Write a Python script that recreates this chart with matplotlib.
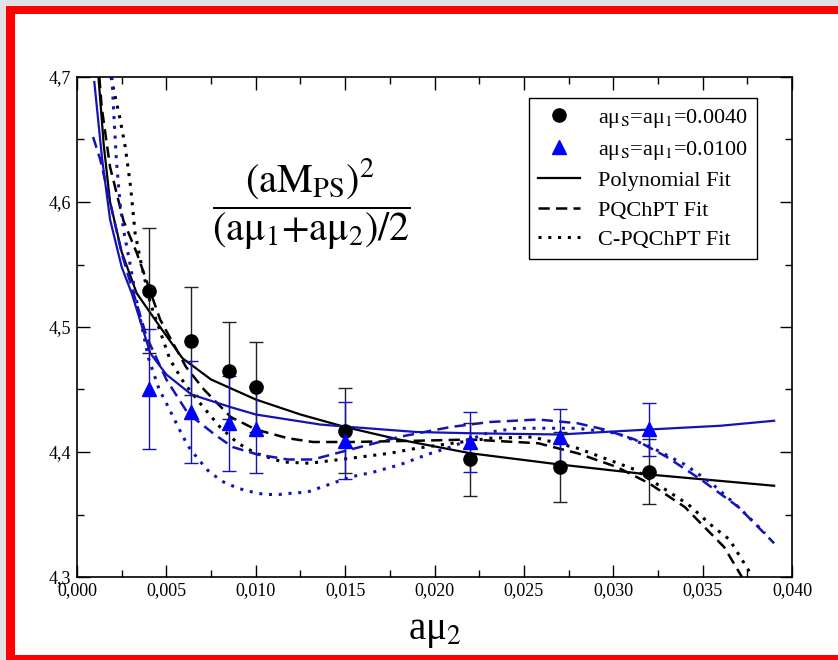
import matplotlib
matplotlib.use("Agg")
import matplotlib.pyplot as plt
from matplotlib.lines import Line2D
from matplotlib.patches import Rectangle
from matplotlib.ticker import FuncFormatter, MultipleLocator

plt.rcParams["font.family"] = ["Liberation Serif", "DejaVu Serif"]
plt.rcParams["mathtext.fontset"] = "stix"

# measured points, a mu_1 = 0.0040 (black circles)
x_040 = [0.0040, 0.0064, 0.0085, 0.0100, 0.0150, 0.0220, 0.0270, 0.0320]
y_040 = [4.529, 4.489, 4.465, 4.452, 4.417, 4.394, 4.388, 4.384]
e_040 = [0.050, 0.043, 0.039, 0.036, 0.034, 0.029, 0.028, 0.026]

# measured points, a mu_1 = 0.0100 (blue triangles)
x_100 = [0.0040, 0.0064, 0.0085, 0.0100, 0.0150, 0.0220, 0.0270, 0.0320]
y_100 = [4.450, 4.432, 4.423, 4.418, 4.409, 4.408, 4.412, 4.418]
e_100 = [0.048, 0.041, 0.038, 0.035, 0.031, 0.024, 0.022, 0.021]

# fit curves
poly_040_x = [0.0012, 0.0015, 0.00185, 0.0025, 0.00334, 0.00465, 0.0059, 0.0075, 0.0100,
              0.0125, 0.0150, 0.0180, 0.0220, 0.0270, 0.0320, 0.0390]
poly_040_y = [4.700, 4.645, 4.600, 4.560, 4.527, 4.500, 4.475, 4.458, 4.442,
              4.430, 4.420, 4.410, 4.399, 4.390, 4.382, 4.373]

poly_100_x = [0.00097, 0.0014, 0.00185, 0.0025, 0.00306, 0.0041, 0.0050, 0.0064, 0.00857,
              0.0100, 0.0136, 0.0153, 0.0190, 0.0220, 0.0270, 0.0320, 0.0360, 0.0390]
poly_100_y = [4.696, 4.635, 4.586, 4.548, 4.527, 4.479, 4.462, 4.446, 4.436,
              4.430, 4.422, 4.420, 4.416, 4.415, 4.414, 4.418, 4.421, 4.425]

pq_040_x = [0.00125, 0.00138, 0.00185, 0.0026, 0.00335, 0.00465, 0.0061, 0.0071, 0.0086,
            0.0100, 0.0118, 0.0132, 0.0153, 0.0190, 0.0220, 0.0258, 0.0280, 0.0302,
            0.0320, 0.0340, 0.0362, 0.0372]
pq_040_y = [4.700, 4.676, 4.628, 4.585, 4.559, 4.506, 4.468, 4.450, 4.428,
            4.418, 4.411, 4.408, 4.408, 4.409, 4.410, 4.407, 4.399, 4.388,
            4.375, 4.356, 4.324, 4.300]

cpq_040_x = [0.0019, 0.0024, 0.0027, 0.0030, 0.00325, 0.0036, 0.0041, 0.0052, 0.0060,
             0.0070, 0.0080, 0.0090, 0.0100, 0.0115, 0.0130, 0.0153, 0.0175, 0.0190,
             0.0210, 0.0231, 0.0255, 0.0280, 0.0297, 0.0312, 0.0327, 0.0342, 0.0356,
             0.0365, 0.0378]
cpq_040_y = [4.700, 4.667, 4.644, 4.612, 4.575, 4.550, 4.519, 4.474, 4.455,
             4.437, 4.420, 4.407, 4.399, 4.392, 4.391, 4.395, 4.399, 4.403,
             4.407, 4.411, 4.412, 4.403, 4.394, 4.386, 4.372, 4.358, 4.340,
             4.330, 4.300]

pq_100_x = [0.0009, 0.0013, 0.00185, 0.0025, 0.0031, 0.0039, 0.0050, 0.0062, 0.0077,
            0.0087, 0.0101, 0.0118, 0.0132, 0.0153, 0.0180, 0.0209, 0.0231, 0.0258,
            0.0280, 0.0295, 0.0312, 0.0330, 0.0349, 0.0370, 0.0390]
pq_100_y = [4.652, 4.634, 4.600, 4.559, 4.530, 4.492, 4.458, 4.431, 4.414,
            4.404, 4.398, 4.394, 4.394, 4.402, 4.412, 4.420, 4.424, 4.426,
            4.423, 4.418, 4.410, 4.396, 4.378, 4.356, 4.327]

cpq_100_x = [0.00195, 0.00205, 0.0022, 0.0024, 0.0026, 0.0030, 0.0034, 0.0040, 0.0046,
             0.0050, 0.0058, 0.0062, 0.0068, 0.0074, 0.0082, 0.0090, 0.0098, 0.0105,
             0.0113, 0.0120, 0.0129, 0.0153, 0.0166, 0.0181, 0.0196, 0.0209, 0.0231,
             0.0246, 0.0263, 0.0280, 0.0302, 0.0321, 0.0340, 0.0355, 0.0370, 0.0385]
cpq_100_y = [4.700, 4.673, 4.634, 4.600, 4.578, 4.548, 4.516, 4.475, 4.450,
             4.439, 4.416, 4.405, 4.394, 4.384, 4.376, 4.371, 4.368, 4.366,
             4.366, 4.367, 4.368, 4.380, 4.384, 4.390, 4.398, 4.404, 4.416,
             4.419, 4.419, 4.419, 4.415, 4.404, 4.390, 4.375, 4.356, 4.335]

legend_labels = ["aμ$_{\\mathrm{S}}$=aμ$_1$=0.0040", "aμ$_{\\mathrm{S}}$=aμ$_1$=0.0100",
                 "Polynomial Fit", "PQChPT Fit", "C-PQChPT Fit"]

BLUE = "#1414b4"
DOT = (0, (1, 2.2))
DASH = (0, (4.5, 2.5))

fig = plt.figure(figsize=(8.38, 6.6), dpi=100)
fig.patch.set_facecolor("#e2e2e2")
W, H = 838.0, 660.0
fig.add_artist(Rectangle((6 / W, 0), 1, 1 - 6 / H, transform=fig.transFigure,
                         facecolor="red", edgecolor="none", zorder=-3))
fig.add_artist(Rectangle((15 / W, 5 / H), 1, 1 - 19 / H, transform=fig.transFigure,
                         facecolor="white", edgecolor="none", zorder=-2))

ax = fig.add_axes([77 / W, 1 - 577 / H, (792 - 77) / W, 500 / H])
ax.set_facecolor("none")

ax.plot(poly_040_x, poly_040_y, color="black", lw=1.6)
ax.plot(pq_040_x, pq_040_y, color="black", lw=1.8, linestyle=DASH)
ax.plot(cpq_040_x, cpq_040_y, color="black", lw=2.2, linestyle=DOT)
ax.plot(poly_100_x, poly_100_y, color=BLUE, lw=1.6)
ax.plot(pq_100_x, pq_100_y, color=BLUE, lw=1.8, linestyle=DASH)
ax.plot(cpq_100_x, cpq_100_y, color=BLUE, lw=2.2, linestyle=DOT)

ax.errorbar(x_040, y_040, yerr=e_040, fmt="o", color="black", ms=9.5,
            ecolor="#222222", elinewidth=1, capsize=5, capthick=1, zorder=5)
ax.errorbar(x_100, y_100, yerr=e_100, fmt="^", color="blue", ms=10.5,
            ecolor=BLUE, elinewidth=1, capsize=5, capthick=1, zorder=5)

ax.set_xlim(0.0, 0.040)
ax.set_ylim(4.3, 4.7)
ax.xaxis.set_major_locator(MultipleLocator(0.005))
ax.xaxis.set_minor_locator(MultipleLocator(0.0025))
ax.yaxis.set_major_locator(MultipleLocator(0.1))
ax.yaxis.set_minor_locator(MultipleLocator(0.05))
ax.xaxis.set_major_formatter(FuncFormatter(lambda v, p: f"{v:.3f}".replace(".", ",")))
ax.yaxis.set_major_formatter(FuncFormatter(lambda v, p: f"{v:.1f}".replace(".", ",")))
ax.tick_params(which="both", direction="in", top=True, right=True, labelsize=13)
ax.tick_params(which="major", length=9, width=1)
ax.tick_params(axis="x", which="major", pad=4)
ax.tick_params(axis="y", which="major", pad=4)
ax.tick_params(which="minor", length=5, width=1)
for s in ax.spines.values():
    s.set_linewidth(1.2)

ax.set_xlabel("aμ$_2$", fontsize=28, labelpad=10)

ax.text(0.0131, 4.598,
        r"$\dfrac{(\mathrm{aM}_{\mathrm{PS}})^2}{(\mathrm{aμ}_1\mathrm{+aμ}_2)/2}$",
        ha="center", va="center", fontsize=29)

handles = [
    Line2D([], [], marker="o", color="black", linestyle="none", ms=9.5),
    Line2D([], [], marker="^", color="blue", linestyle="none", ms=10.5),
    Line2D([], [], color="black", lw=1.6),
    Line2D([], [], color="black", lw=1.8, linestyle=DASH),
    Line2D([], [], color="black", lw=2.2, linestyle=DOT),
]
leg = ax.legend(handles, legend_labels, loc="upper right", bbox_to_anchor=(0.951, 0.958),
                borderaxespad=0, fontsize=16, fancybox=False, framealpha=1,
                edgecolor="black", handlelength=1.9, labelspacing=0.4,
                borderpad=0.4, handletextpad=0.8)
leg.get_frame().set_linewidth(1)

fig.savefig("out.png", dpi=100, facecolor=fig.get_facecolor())
